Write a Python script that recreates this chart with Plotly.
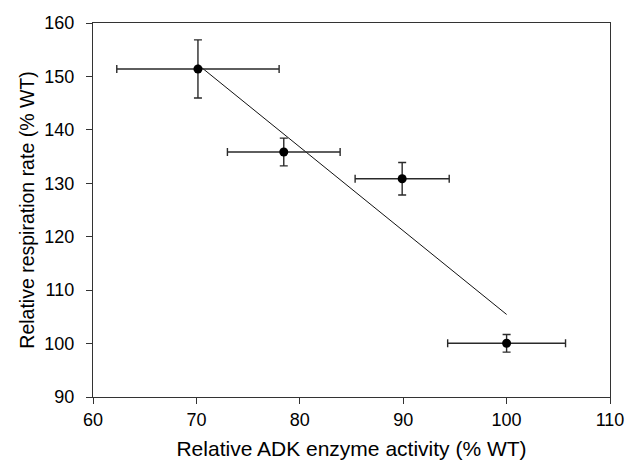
import numpy as np
import plotly.graph_objects as go

adk_activity = [70.15, 78.45, 89.9, 100.0]
adk_err = [7.85, 5.45, 4.55, 5.7]
respiration = [151.4, 135.85, 130.85, 100.05]
resp_err = [5.45, 2.6, 3.05, 1.65]

slope, intercept = np.polyfit(adk_activity, respiration, 1)
fit_x = [min(adk_activity), max(adk_activity)]
fit_y = [slope * v + intercept for v in fit_x]

FONT = "Liberation Sans, Arial, sans-serif"

fig = go.Figure()
fig.add_trace(go.Scatter(
    x=fit_x, y=fit_y, mode="lines",
    line=dict(color="#111111", width=1), showlegend=False, hoverinfo="skip"))
fig.add_trace(go.Scatter(
    x=adk_activity, y=respiration, mode="markers",
    marker=dict(color="black", size=9),
    error_x=dict(type="data", array=adk_err, color="#2a2a2a", thickness=1.4, width=4),
    error_y=dict(type="data", array=resp_err, color="#2a2a2a", thickness=1.4, width=4),
    showlegend=False))

axis_common = dict(
    showgrid=False, zeroline=False, showline=True, linecolor="#333333", linewidth=1.4,
    mirror=True, ticks="outside", ticklen=6, tickcolor="#333333", tickwidth=1.3,
    tickfont=dict(family=FONT, size=18, color="black"), automargin=False,
)
fig.update_layout(
    width=630, height=460,
    margin=dict(l=93, r=20, t=23, b=63),
    paper_bgcolor="white", plot_bgcolor="white",
    xaxis=dict(range=[60, 110], dtick=10, ticklabelstandoff=0,
               title=dict(text="Relative ADK enzyme activity (% WT)", standoff=12,
                          font=dict(family=FONT, size=21, color="black")),
               **axis_common),
    yaxis=dict(range=[90, 160], dtick=10, ticklabelstandoff=8,
               title=dict(text="Relative respiration rate (% WT)", standoff=4,
                          font=dict(family=FONT, size=19.5, color="black")),
               **axis_common),
)
fig.write_html("out.html", config={"displayModeBar": False},
               post_script="document.body.style.margin='0';document.body.style.overflow='hidden';")
